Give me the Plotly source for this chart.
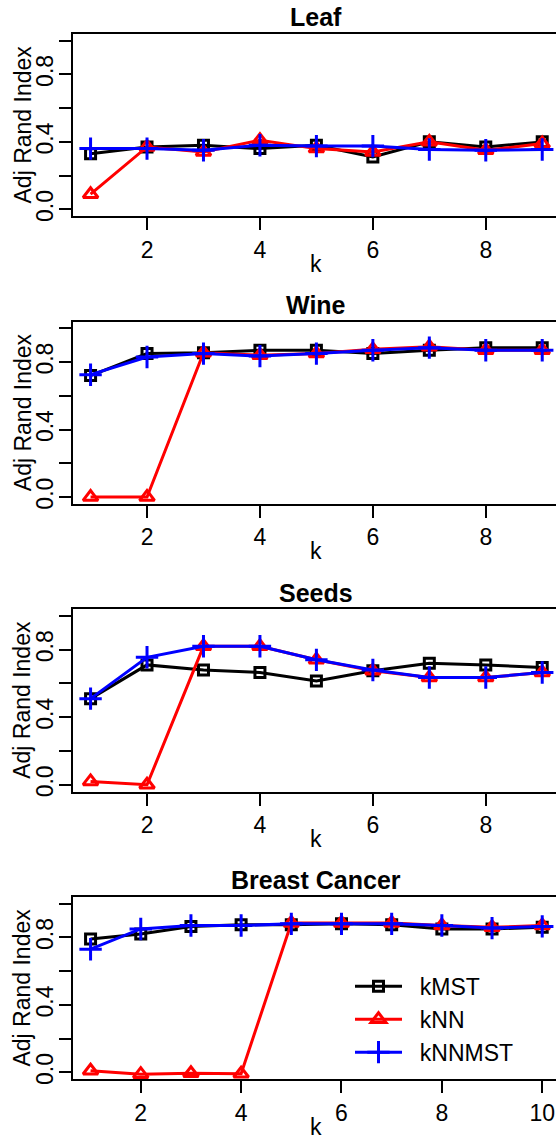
import plotly.graph_objects as go

# Adjusted Rand Index versus neighbourhood size k for three graph constructions
panel_titles = ["Leaf", "Wine", "Seeds", "Breast Cancer"]
method_names = ["kMST", "kNN", "kNNMST"]

k_short = [1, 2, 3, 4, 5, 6, 7, 8, 9]
k_long = [1, 2, 3, 4, 5, 6, 7, 8, 9, 10]

leaf_kmst = [0.33, 0.37, 0.38, 0.36, 0.38, 0.31, 0.40, 0.37, 0.40]
leaf_knn = [0.09, 0.37, 0.34, 0.41, 0.36, 0.34, 0.40, 0.35, 0.39]
leaf_knnmst = [0.36, 0.36, 0.35, 0.38, 0.375, 0.375, 0.355, 0.35, 0.355]

wine_kmst = [0.72, 0.85, 0.855, 0.87, 0.87, 0.85, 0.87, 0.885, 0.885]
wine_knn = [0.0, 0.0, 0.855, 0.84, 0.85, 0.875, 0.89, 0.87, 0.87]
wine_knnmst = [0.725, 0.83, 0.85, 0.835, 0.85, 0.87, 0.885, 0.87, 0.87]

seeds_kmst = [0.51, 0.71, 0.68, 0.665, 0.615, 0.675, 0.72, 0.71, 0.695]
seeds_knn = [0.02, 0.0, 0.82, 0.82, 0.74, 0.675, 0.635, 0.635, 0.665]
seeds_knnmst = [0.51, 0.755, 0.82, 0.82, 0.74, 0.68, 0.635, 0.635, 0.665]

bc_kmst = [0.79, 0.82, 0.865, 0.875, 0.875, 0.88, 0.875, 0.85, 0.85, 0.86]
bc_knn = [0.01, -0.01, -0.005, -0.008, 0.885, 0.885, 0.885, 0.87, 0.86, 0.87]
bc_knnmst = [0.73, 0.85, 0.87, 0.87, 0.88, 0.88, 0.88, 0.87, 0.855, 0.865]

panels = [
    (k_short, [leaf_kmst, leaf_knn, leaf_knnmst]),
    (k_short, [wine_kmst, wine_knn, wine_knnmst]),
    (k_short, [seeds_kmst, seeds_knn, seeds_knnmst]),
    (k_long, [bc_kmst, bc_knn, bc_knnmst]),
]

W, H = 556, 1141
FONT = "Liberation Sans, Arial, Helvetica, sans-serif"

colors = ["#000000", "#FF0000", "#0000FF"]
symbols = ["square-open", "triangle-up-open", "cross-thin-open"]
msizes = [10, 13, 16]

# plot-box geometry (pixels)
left_px, right_px = 72.5, 560.3
top0, bot0, step = 34.0, 217.3, 289.2
visible_frac = (W - left_px) / (right_px - left_px)

NBSP = "\u00a0"


def px(x):
    return x / W


def py(y):
    return 1 - y / H


fig = go.Figure()
annotations = []
layout_axes = {}

for i, (title, (ks, series)) in enumerate(zip(panel_titles, panels)):
    n = i + 1
    xa = "x" if n == 1 else f"x{n}"
    ya = "y" if n == 1 else f"y{n}"
    for j, vals in enumerate(series):
        fig.add_trace(go.Scatter(
            x=ks, y=vals, xaxis=xa, yaxis=ya,
            mode="lines+markers",
            name=NBSP * 2 + method_names[j],
            showlegend=(n == 4),
            line=dict(color=colors[j], width=3),
            marker=dict(symbol=symbols[j], size=msizes[j], color=colors[j],
                        line=dict(color=colors[j], width=3)),
            cliponaxis=False,
        ))

    top = top0 + step * i
    bot = bot0 + step * i
    lo = 1 - 0.04 * (len(ks) - 1)
    hi = len(ks) + 0.04 * (len(ks) - 1)
    xr = [lo, lo + (hi - lo) * visible_frac]

    layout_axes[f"xaxis{'' if n == 1 else n}"] = dict(
        domain=[px(left_px), 1.0], range=xr, anchor=ya,
        tickmode="linear", tick0=0, dtick=2,
        showline=True, linecolor="black", linewidth=2, mirror=True,
        ticks="outside", ticklen=12, tickwidth=2, tickcolor="black",
        showgrid=False, zeroline=False,
        tickfont=dict(family=FONT, size=23, color="black"),
    )
    layout_axes[f"yaxis{'' if n == 1 else n}"] = dict(
        domain=[py(bot), py(top)], range=[-0.04, 1.04], anchor=xa,
        tickmode="linear", tick0=0, dtick=0.4, tickformat=".1f",
        tickangle=-90, ticklabelstandoff=-4,
        showline=True, linecolor="black", linewidth=2, mirror=False,
        ticks="outside", ticklen=12, tickwidth=2, tickcolor="black",
        minor=dict(tick0=0, dtick=0.2, ticks="outside", ticklen=12,
                   tickwidth=2, tickcolor="black", showgrid=False),
        showgrid=False, zeroline=False,
        tickfont=dict(family=FONT, size=23, color="black"),
    )

    cx = (left_px + right_px) / 2
    annotations.append(dict(
        text=f"<b>{title}</b>", x=px(cx), y=py(17.5 + step * i),
        xref="paper", yref="paper", xanchor="center", yanchor="middle",
        showarrow=False, font=dict(family=FONT, size=25, color="black"),
    ))
    annotations.append(dict(
        text="k", x=px(cx), y=py(265 + step * i),
        xref="paper", yref="paper", xanchor="center", yanchor="middle",
        showarrow=False, font=dict(family=FONT, size=23, color="black"),
    ))
    annotations.append(dict(
        text="Adj Rand Index", x=px(22.5), y=py((top + bot) / 2),
        xref="paper", yref="paper", xanchor="center", yanchor="middle",
        textangle=-90, showarrow=False,
        font=dict(family=FONT, size=23, color="black"),
    ))

fig.update_layout(
    width=W, height=H,
    margin=dict(l=0, r=0, t=0, b=0),
    paper_bgcolor="white", plot_bgcolor="white",
    annotations=annotations,
    showlegend=True,
    legend=dict(
        x=px(350), y=py(970), xanchor="left", yanchor="top",
        bgcolor="rgba(0,0,0,0)", borderwidth=0,
        font=dict(family=FONT, size=23, color="black"),
        itemwidth=47, tracegroupgap=0,
    ),
    **layout_axes,
)

fig.write_html("out.html")
